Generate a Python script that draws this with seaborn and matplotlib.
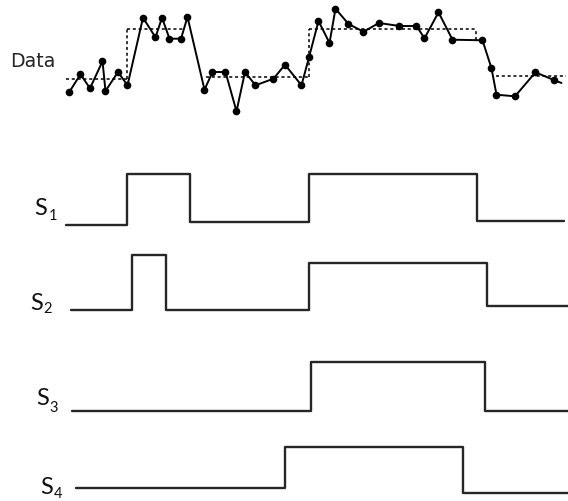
import matplotlib
matplotlib.use("Agg")
import matplotlib.pyplot as plt
import numpy as np
import pandas as pd
import seaborn as sns

sns.set_theme(style="white")
plt.rcParams["font.family"] = ["DejaVu Sans"]

# ---- measured series (time in sample units, value in arbitrary units) ----
data_t = [0.7, 2.9, 4.8, 7.3, 7.9, 10.4, 12.3, 15.4, 17.9, 19.2, 20.7, 23.0, 24.3,
          27.7, 29.3, 31.9, 34.1, 35.8, 37.9, 41.5, 43.8, 47.1, 48.6, 50.5, 52.7,
          53.9, 56.5, 59.5, 62.6, 66.7, 70.1, 71.7, 74.5, 77.3, 83.3, 85.1, 86.1,
          89.8, 93.9, 97.7]
data_v = [2.23, 3.97, 2.57, 5.27, 2.30, 4.20, 2.87, 9.63, 7.67, 9.63, 7.53, 7.53, 9.70,
          2.43, 4.20, 4.20, 0.27, 4.20, 2.87, 3.53, 4.93, 2.87, 5.67, 9.30, 7.10,
          10.53, 9.00, 8.23, 9.10, 8.80, 8.80, 7.57, 10.17, 7.43, 7.37, 4.57, 1.93,
          1.77, 4.17, 3.37]
data_tail_t = [97.7, 99.1]
data_tail_v = [3.37, 3.10]

# piecewise-constant fit: segment start, end and level
fit_start = [0.0, 12.3, 28.0, 48.6, 86.1]
fit_end = [12.3, 23.8, 48.6, 82.1, 100.1]
fit_level = [3.5, 8.5, 3.7, 8.5, 3.77]
# rising / falling edges of the fit (time, from, to)
fit_edge_t = [12.3, 48.6, 82.1]
fit_edge_lo = [3.5, 3.7, 7.4]
fit_edge_hi = [8.5, 8.5, 8.5]

# state signals: edge times and the level held after each edge
s1_edges = [0.1, 12.3, 24.9, 48.7, 82.3, 99.7]
s1_levels = [0.0, 1.01, 0.05, 1.01, 0.08]
s2_edges = [1.1, 13.3, 20.1, 48.7, 84.3, 100.4]
s2_levels = [0.0, 1.09, 0.0, 0.93, 0.07]
s3_edges = [1.3, 49.1, 83.9, 100.4]
s3_levels = [0.0, 0.97, 0.0]
s4_edges = [2.0, 43.9, 79.5, 100.4]
s4_levels = [0.0, 0.83, -0.10]

signal_names = ["S", "S", "S", "S"]
signal_subs = ["1", "2", "3", "4"]

W, H = 568, 502
fig = plt.figure(figsize=(W / 100, H / 100), dpi=100)
XLIM = (-13.2, 100.4)


def band(top_px, bottom_px):
    return [0, 1 - bottom_px / H, 1, (bottom_px - top_px) / H]


# ---- data panel ----
ax = fig.add_axes(band(0, 125))
ax.set_xlim(*XLIM)
ax.set_ylim(-1.0, 11.5)
ax.hlines(fit_level, fit_start, fit_end, colors="black", linestyles=(0, (2.0, 1.8)), lw=1.1)
ax.vlines(fit_edge_t, fit_edge_lo, fit_edge_hi, colors="black", linestyles=(0, (2.0, 1.8)), lw=1.1)
df = pd.DataFrame({"t": data_t, "v": data_v})
sns.lineplot(data=df, x="t", y="v", ax=ax, sort=False, estimator=None, color="black",
             lw=1.4, marker="o", markersize=5.5, markeredgewidth=0)
sns.lineplot(x=data_tail_t, y=data_tail_v, ax=ax, sort=False, estimator=None,
             color="black", lw=1.4)
ax.set_axis_off()

# ---- signal panels ----
signals = [(s1_edges, s1_levels), (s2_edges, s2_levels),
           (s3_edges, s3_levels), (s4_edges, s4_levels)]
baselines = [225.7, 310.7, 411.7, 489.3]
for (edges, levels), base in zip(signals, baselines):
    sax = fig.add_axes(band(base - 70, base + 10))
    sax.set_xlim(*XLIM)
    sax.set_ylim(-0.2, 1.4)
    sdf = pd.DataFrame({"t": edges, "v": levels + [levels[-1]]})
    sns.lineplot(data=sdf, x="t", y="v", ax=sax, sort=False, estimator=None,
                 drawstyle="steps-post", color="#262626", lw=1.7)
    sax.set_axis_off()

# ---- labels ----
fig.text(10 / W, 1 - 67 / H, "Data", fontsize=13.7, va="baseline", ha="left",
         family=["DejaVu Sans"])
label_pos = [(34.5, 215, 48.5, 220), (30.5, 310, 43, 313), (36, 405, 49, 411.5),
             (40.5, 494, 54, 498.5)]
for name, sub, (sx, sy, bx, by) in zip(signal_names, signal_subs, label_pos):
    fig.text(sx / W, 1 - sy / H, name, fontsize=17, va="baseline", ha="left",
             family=["Lato", "DejaVu Sans"], color="#111111")
    fig.text(bx / W, 1 - by / H, sub, fontsize=10.5, va="baseline", ha="left",
             family=["Lato", "DejaVu Sans"], color="#111111")

fig.savefig("out.png", dpi=100, facecolor="white")
